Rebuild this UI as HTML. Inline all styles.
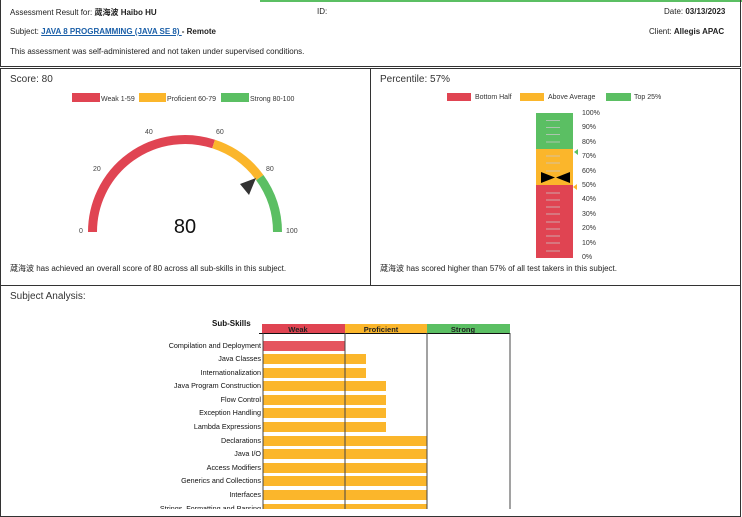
<!DOCTYPE html><html><head><style>
body{margin:0;width:742px;height:509px;overflow:hidden;background:#fff;font-family:"Liberation Sans","Noto Sans CJK SC",sans-serif;color:#222;position:relative}
.a{position:absolute;white-space:nowrap}
.s{font-size:8px}
</style></head><body>
<div class="a" style="left:260px;top:0;width:482px;height:2px;background:#5bbf63"></div>
<div class="a" style="left:0;top:0;width:739px;height:66px;border:1px solid #333;border-top:none"></div>
<div class="a s" style="left:10px;top:7px">Assessment Result for: <b>蒧海波 Haibo HU</b></div>
<div class="a s" style="left:317px;top:7px">ID:</div>
<div class="a s" style="left:664px;top:7px">Date: <b>03/13/2023</b></div>
<div class="a s" style="left:10px;top:27px">Subject: <b style="color:#1a5fa8;text-decoration:underline">JAVA 8 PROGRAMMING (JAVA SE 8) </b><b>- Remote</b></div>
<div class="a s" style="left:649px;top:27px">Client: <b>Allegis APAC</b></div>
<div class="a s" style="left:10px;top:47px">This assessment was self-administered and not taken under supervised conditions.</div>
<div class="a" style="left:0;top:68px;width:369px;height:216px;border:1px solid #333"></div>
<div class="a" style="left:370px;top:68px;width:369px;height:216px;border:1px solid #333"></div>
<div class="a" style="left:0;top:285px;width:739px;height:230px;border:1px solid #333"></div>
<div class="a" style="left:10px;top:74px;font-size:10px;color:#333">Score: 80</div>
<div class="a" style="left:380px;top:74px;font-size:10px;color:#333">Percentile: 57%</div>
<div class="a" style="left:10px;top:291px;font-size:10px;color:#333">Subject Analysis:</div>
<svg class="a" style="left:0;top:0" width="742" height="509">
<g font-size="7" font-family="Liberation Sans" fill="#333">
<rect x="72" y="93" width="28" height="9" fill="#e04452"/><text x="101" y="101">Weak 1-59</text>
<rect x="139" y="93" width="27" height="9" fill="#fbb62b"/><text x="167" y="101">Proficient 60-79</text>
<rect x="221" y="93" width="28" height="9" fill="#5bbf63"/><text x="250" y="101">Strong 80-100</text>
</g>
<g fill="none" stroke-width="9">
<path d="M92.5 232 A92.5 92.5 0 0 1 213.6 144" stroke="#e04452"/>
<path d="M213.6 144 A92.5 92.5 0 0 1 259.8 177.6" stroke="#fbb62b"/>
<path d="M259.8 177.6 A92.5 92.5 0 0 1 277.5 232" stroke="#5bbf63"/>
</g>
<polygon points="240,184 256,178 249,195" fill="#333"/>
<g font-size="7" fill="#444" font-family="Liberation Sans">
<text x="79" y="233">0</text><text x="93" y="171">20</text><text x="145" y="134">40</text><text x="216" y="134">60</text><text x="266" y="171">80</text><text x="286" y="233">100</text>
</g>
<text x="185" y="233" font-size="20" text-anchor="middle" font-family="Liberation Sans" fill="#111">80</text>
<text x="10" y="271" font-size="8" font-family="Liberation Sans,Noto Sans CJK SC" fill="#222">蒧海波 has achieved an overall score of 80 across all sub-skills in this subject.</text>
<g font-size="7" font-family="Liberation Sans" fill="#333">
<rect x="447" y="93" width="24" height="8" fill="#e04452"/><text x="475" y="99">Bottom Half</text>
<rect x="520" y="93" width="24" height="8" fill="#fbb62b"/><text x="548" y="99">Above Average</text>
<rect x="606" y="93" width="25" height="8" fill="#5bbf63"/><text x="634" y="99">Top 25%</text>
</g>
<rect x="536" y="113" width="37" height="36" fill="#5bbf63"/>
<rect x="536" y="149" width="37" height="36" fill="#fbb62b"/>
<rect x="536" y="185" width="37" height="73" fill="#e04452"/>
<g stroke="#c8c8c8" stroke-width="0.8">
<path d="M546 120.5h14M546 127.5h14M546 134.5h14M546 142h14M546 156h14M546 163h14M546 171h14M546 193h14M546 200h14M546 207h14M546 214h14M546 222h14M546 229h14M546 236h14M546 243h14M546 251h14"/>
</g>
<polygon points="541,172 541,183 555,177.5" fill="#000"/>
<polygon points="570,172 570,183 556,177.5" fill="#000"/>
<polygon points="574,152 578,149 578,155" fill="#5bbf63"/>
<polygon points="573,187 577,184 577,190" fill="#fbb62b"/>
<g font-size="7" font-family="Liberation Sans" fill="#333">
<text x="582" y="115">100%</text><text x="582" y="129">90%</text><text x="582" y="144">80%</text><text x="582" y="158">70%</text><text x="582" y="173">60%</text><text x="582" y="187">50%</text><text x="582" y="201">40%</text><text x="582" y="216">30%</text><text x="582" y="230">20%</text><text x="582" y="245">10%</text><text x="582" y="259">0%</text>
</g>
<text x="380" y="271" font-size="8" font-family="Liberation Sans,Noto Sans CJK SC" fill="#222">蒧海波 has scored higher than 57% of all test takers in this subject.</text>
<text x="212" y="326" font-size="8" font-weight="bold" font-family="Liberation Sans" fill="#111">Sub-Skills</text>
<rect x="262" y="324" width="83" height="9" fill="#e04452"/>
<rect x="345" y="324" width="82" height="9" fill="#fbb62b"/>
<rect x="427" y="324" width="83" height="9" fill="#5bbf63"/>
<g font-size="7.5" font-weight="bold" font-family="Liberation Sans" fill="#222" text-anchor="middle">
<text x="298" y="332">Weak</text><text x="381" y="332">Proficient</text><text x="463" y="332">Strong</text></g>
<g fill="#fbb62b">
<rect x="263" y="341" width="82" height="10" fill="#e5545e"/>
<rect x="263" y="354" width="103" height="10"/><rect x="263" y="368" width="103" height="10"/>
<rect x="263" y="381" width="123" height="10"/><rect x="263" y="395" width="123" height="10"/><rect x="263" y="408" width="123" height="10"/><rect x="263" y="422" width="123" height="10"/>
<rect x="263" y="436" width="164" height="10"/><rect x="263" y="449" width="164" height="10"/><rect x="263" y="463" width="164" height="10"/><rect x="263" y="476" width="164" height="10"/><rect x="263" y="490" width="164" height="10"/><rect x="263" y="504" width="164" height="10"/>
</g>
<path d="M259 333.5H510" stroke="#111" stroke-width="1"/>
<g stroke="#444" stroke-width="1"><path d="M263 333V509M345 333V509M427 333V509M510 333V509"/></g>
<g font-size="7.2" font-family="Liberation Sans" fill="#111" text-anchor="end">
<text x="261" y="348">Compilation and Deployment</text><text x="261" y="361">Java Classes</text><text x="261" y="375">Internationalization</text><text x="261" y="388">Java Program Construction</text><text x="261" y="402">Flow Control</text><text x="261" y="415">Exception Handling</text><text x="261" y="429">Lambda Expressions</text><text x="261" y="443">Declarations</text><text x="261" y="456">Java I/O</text><text x="261" y="470">Access Modifiers</text><text x="261" y="483">Generics and Collections</text><text x="261" y="497">Interfaces</text><text x="261" y="511">Strings, Formatting and Parsing</text>
</g>
</svg>
</body></html>
